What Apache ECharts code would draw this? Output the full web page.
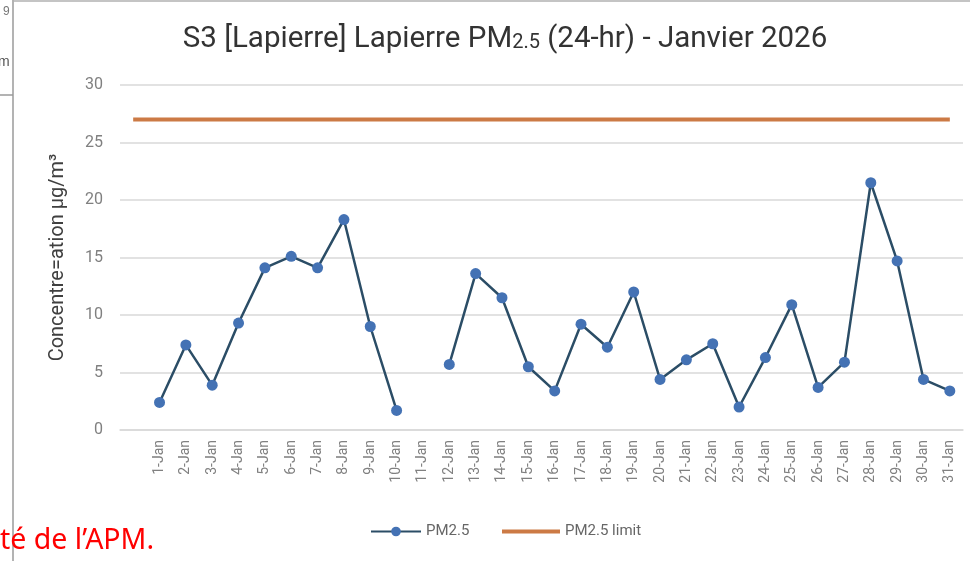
<!DOCTYPE html>
<html>
<head>
<meta charset="utf-8">
<title>S3 Lapierre PM2.5 - Janvier 2026</title>
<script src="https://cdn.jsdelivr.net/npm/echarts@6/dist/echarts.min.js"></script>
<style>
	html, body { margin: 0; padding: 0; background: #fff; }
	#chart { width: 970px; height: 561px; }
</style>
</head>
<body>
<div id="chart"></div>
<script>
// jours (la 1re catégorie est vide, comme dans le graphique Excel)
var days = ['', '1-Jan', '2-Jan', '3-Jan', '4-Jan', '5-Jan', '6-Jan', '7-Jan', '8-Jan', '9-Jan', '10-Jan',
	'11-Jan', '12-Jan', '13-Jan', '14-Jan', '15-Jan', '16-Jan', '17-Jan', '18-Jan', '19-Jan', '20-Jan',
	'21-Jan', '22-Jan', '23-Jan', '24-Jan', '25-Jan', '26-Jan', '27-Jan', '28-Jan', '29-Jan', '30-Jan', '31-Jan'];

// PM2.5 moyenne 24 h (µg/m3), 11-Jan manquant
var pm25 = [null, 2.4, 7.4, 3.9, 9.3, 14.1, 15.1, 14.1, 18.3, 9.0, 1.7,
	null, 5.7, 13.6, 11.5, 5.5, 3.4, 9.2, 7.2, 12.0, 4.4,
	6.1, 7.5, 2.0, 6.3, 10.9, 3.7, 5.9, 21.5, 14.7, 4.4, 3.4];

// norme
var pm25Limit = [27, 27, 27, 27, 27, 27, 27, 27, 27, 27, 27,
	27, 27, 27, 27, 27, 27, 27, 27, 27, 27,
	27, 27, 27, 27, 27, 27, 27, 27, 27, 27, 27];

var yTicks = { min: 0, max: 30, step: 5 };

var myChart = echarts.init(document.getElementById('chart'));

var option = {
	backgroundColor: '#fff',
	textStyle: { fontFamily: 'Roboto, "Liberation Sans", sans-serif' },
	title: {
		text: '{a|S3 [Lapierre] Lapierre PM}{b|2.5}{a| (24-hr) - Janvier 2026}',
		left: 500,
		top: 20,
		textAlign: 'center',
		textStyle: {
			fontWeight: 'normal',
			rich: {
				a: { fontSize: 29.5, color: '#333', fontWeight: 'normal', verticalAlign: 'bottom' },
				b: { fontSize: 20, color: '#333', fontWeight: 'normal', verticalAlign: 'bottom', padding: [0, 0, 2, 0] }
			}
		}
	},
	legend: [
		{
			bottom: 17,
			left: 365,
			itemWidth: 50,
			itemHeight: 12,
			textStyle: { color: '#666', fontSize: 15 },
			data: ['PM2.5']
		},
		{
			bottom: 17,
			left: 497,
			itemWidth: 58,
			itemHeight: 4,
			textStyle: { color: '#666', fontSize: 15 },
			data: [{ name: 'PM2.5 limit', icon: 'rect' }]
		}
	],
	grid: {
		left: 120,
		right: 7,
		top: 85,
		bottom: 131
	},
	xAxis: {
		type: 'category',
		data: days,
		boundaryGap: true,
		axisLine: { show: true, lineStyle: { color: '#d9d9d9', width: 1.5 } },
		axisTick: { show: false },
		axisLabel: {
			interval: 0,
			rotate: 90,
			color: '#808080',
			fontSize: 14,
			margin: 10
		}
	},
	yAxis: {
		type: 'value',
		min: yTicks.min,
		max: yTicks.max,
		interval: yTicks.step,
		name: 'Concentre=ation µg/m³',
		nameLocation: 'middle',
		nameGap: 52,
		nameTextStyle: { color: '#404040', fontSize: 20 },
		axisLine: { show: false },
		axisTick: { show: false },
		axisLabel: { color: '#808080', fontSize: 16, margin: 17 },
		splitLine: { lineStyle: { color: '#d9d9d9', width: 1.5 } }
	},
	series: [
		{
			name: 'PM2.5',
			type: 'line',
			data: pm25,
			connectNulls: false,
			symbol: 'circle',
			symbolSize: 11,
			lineStyle: { color: '#2b4d66', width: 2.5 },
			itemStyle: { color: '#4472b4' },
			z: 3
		},
		{
			name: 'PM2.5 limit',
			type: 'line',
			data: pm25Limit,
			symbol: 'none',
			lineStyle: { color: '#cc7a45', width: 4 },
			itemStyle: { color: '#cc7a45' },
			z: 2
		}
	],
	graphic: [
		// bords de la capture
		{ type: 'line', shape: { x1: 13, y1: 0, x2: 13, y2: 561 }, style: { stroke: '#9a9a9a', lineWidth: 1.5 } },
		{ type: 'line', shape: { x1: 13, y1: 1, x2: 970, y2: 1 }, style: { stroke: '#b0b0b0', lineWidth: 1.5 } },
		{ type: 'line', shape: { x1: 0, y1: 95, x2: 13, y2: 95 }, style: { stroke: '#9a9a9a', lineWidth: 1.5 } },
		{ type: 'text', left: 3, top: 6, style: { text: '9', fill: '#777', fontSize: 12 } },
		{ type: 'text', left: -2, top: 55, style: { text: 'm', fill: '#555', fontSize: 14 } },
		{ type: 'text', left: 0, top: 526, style: { text: 'té de l’APM.', fill: '#f00', fontSize: 28.5, fontFamily: '"Noto Sans", sans-serif' } }
	]
};

myChart.setOption(option);
</script>
</body>
</html>
